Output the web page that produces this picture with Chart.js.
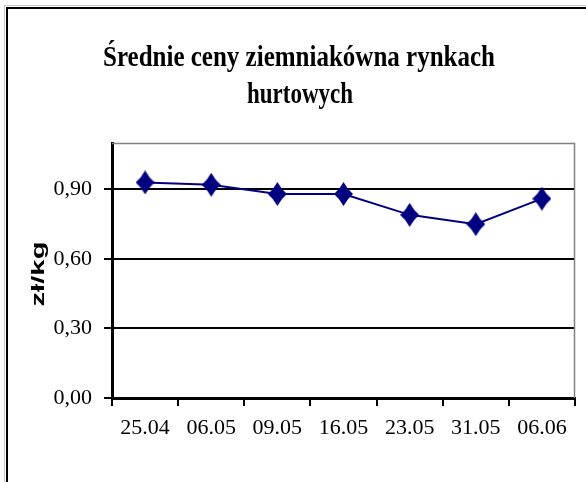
<!DOCTYPE html>
<html>
<head>
<meta charset="utf-8">
<script src="https://cdn.jsdelivr.net/npm/chart.js@4.4.1/dist/chart.umd.min.js"></script>
<style>
  html, body { margin: 0; padding: 0; background: #ffffff; }
  #wrap { width: 586px; height: 482px; position: relative; }
</style>
</head>
<body>
<div id="wrap"><canvas id="c" width="586" height="482"></canvas></div>
<script>
// ---- data ----
const categories = ["25.04", "06.05", "09.05", "16.05", "23.05", "31.05", "06.06"];
const prices = [0.93, 0.92, 0.88, 0.88, 0.79, 0.75, 0.86];
const yTickValues = [0, 0.3, 0.6, 0.9];
const titleLines = ["Średnie ceny ziemniakówna rynkach", "hurtowych"];
const yAxisTitle = "zł/kg";

// diamond marker
function makeDiamond(w, h, color) {
  const c = document.createElement('canvas');
  c.width = w; c.height = h;
  const g = c.getContext('2d');
  const cx = w / 2, cy = h / 2;
  const k = 0.2;
  g.fillStyle = color;
  g.beginPath();
  g.moveTo(cx, 0);
  g.quadraticCurveTo(cx + w * k, cy - h * k, w, cy);
  g.quadraticCurveTo(cx + w * k, cy + h * k, cx, h);
  g.quadraticCurveTo(cx - w * k, cy + h * k, 0, cy);
  g.quadraticCurveTo(cx - w * k, cy - h * k, cx, 0);
  g.closePath();
  g.fill();
  return c;
}
const marker = makeDiamond(19, 24, '#000080');

const decorPlugin = {
  id: 'decor',
  beforeDraw(chart) {
    const ctx = chart.ctx;
    ctx.save();
    ctx.fillStyle = '#ffffff';
    ctx.fillRect(0, 0, chart.width, chart.height);
    ctx.strokeStyle = '#c8c8c8';
    ctx.lineWidth = 1;
    ctx.strokeRect(4.5, 5.5, 700, 700);
    ctx.strokeStyle = '#000000';
    ctx.lineWidth = 2;
    ctx.strokeRect(7, 8, 700, 700);
    ctx.restore();
  },
  afterDraw(chart) {
    const ctx = chart.ctx;
    const a = chart.chartArea;
    ctx.save();
    ctx.strokeStyle = '#808080';
    ctx.lineWidth = 1.5;
    ctx.beginPath();
    ctx.moveTo(a.left, a.top + 0.5);
    ctx.lineTo(a.right - 0.5, a.top + 0.5);
    ctx.lineTo(a.right - 0.5, a.bottom);
    ctx.stroke();

    ctx.fillStyle = '#000000';
    ctx.font = 'bold 23px "Liberation Serif", "Times New Roman", serif';
    ctx.textAlign = 'center';
    ctx.textBaseline = 'alphabetic';
    const specs = [
      { text: titleLines[0], cx: 299, base: 66, w: 392 },
      { text: titleLines[1], cx: 300, base: 103, w: 106 }
    ];
    specs.forEach(s => {
      const m = ctx.measureText(s.text).width;
      ctx.save();
      ctx.translate(s.cx, s.base);
      ctx.scale(s.w / m, 1.25);
      ctx.fillText(s.text, 0, 0);
      ctx.restore();
    });

    ctx.font = 'bold 18px "Liberation Sans", Arial, sans-serif';
    ctx.textBaseline = 'middle';
    const m2 = ctx.measureText(yAxisTitle).width;
    ctx.translate(39, 274);
    ctx.rotate(-Math.PI / 2);
    ctx.scale(65 / m2, 1);
    ctx.fillText(yAxisTitle, 0, 0);
    ctx.restore();
  }
};

new Chart(document.getElementById('c'), {
  type: 'line',
  data: {
    labels: categories,
    datasets: [{
      data: prices,
      borderColor: '#000080',
      borderWidth: 2,
      pointStyle: marker,
      pointRadius: 9,
      pointHoverRadius: 9,
      pointBackgroundColor: '#000080',
      tension: 0,
      fill: false
    }]
  },
  options: {
    responsive: false,
    animation: false,
    events: [],
    layout: { padding: { top: 143, right: 11, left: 0, bottom: 0 } },
    plugins: { legend: { display: false }, title: { display: false }, tooltip: { enabled: false } },
    scales: {
      x: {
        offset: true,
        grid: { display: true, offset: true, drawOnChartArea: false, drawTicks: true, tickLength: 8, color: '#000000', lineWidth: 2 },
        border: { display: true, color: '#000000', width: 3 },
        ticks: { color: '#000000', font: { family: '"Liberation Serif", "Times New Roman", serif', size: 22 }, padding: 9, maxRotation: 0, autoSkip: false },
        afterFit(scale) { scale.height = 84; }
      },
      y: {
        min: 0,
        max: 1.1,
        afterBuildTicks(scale) { scale.ticks = yTickValues.map(v => ({ value: v })); },
        grid: { color: '#000000', lineWidth: 2, drawTicks: true, tickLength: 8 },
        border: { display: true, color: '#000000', width: 3 },
        ticks: {
          color: '#000000',
          font: { family: '"Liberation Serif", "Times New Roman", serif', size: 22 },
          padding: 12,
          callback: v => Number(v).toFixed(2).replace('.', ',')
        },
        afterFit(scale) { scale.width = 112; }
      }
    }
  },
  plugins: [decorPlugin]
});
</script>
</body>
</html>
